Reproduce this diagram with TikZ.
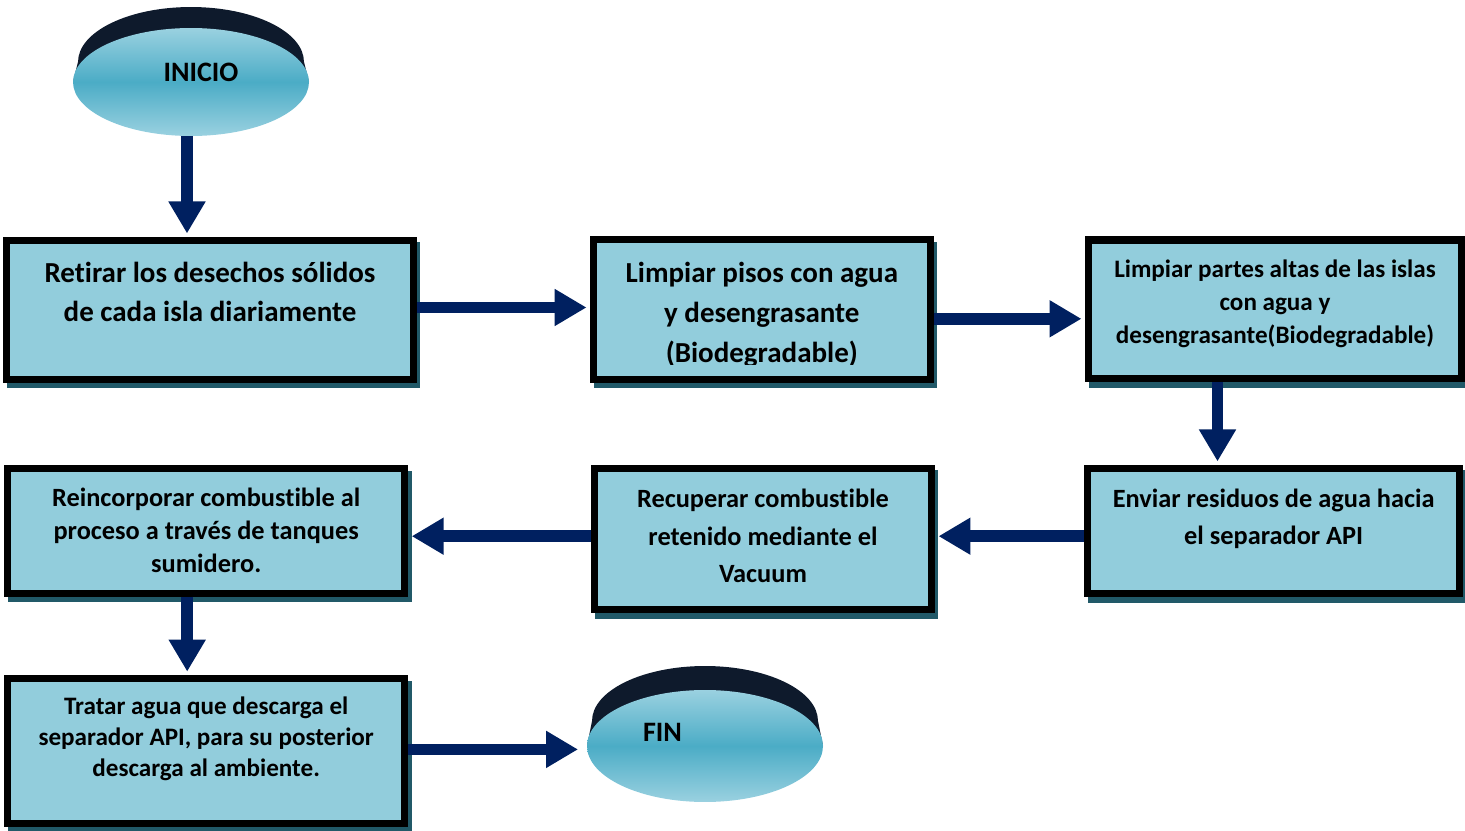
\documentclass[tikz,border=0pt]{standalone}
\usepackage{fontspec}
\setmainfont{Carlito}[Ligatures=NoCommon]
\usepackage{tikz}
\usetikzlibrary{positioning,arrows.meta,calc,shapes.geometric,shadows}
\definecolor{boxblue}{HTML}{92CDDC}
\definecolor{shadowteal}{HTML}{215968}
\definecolor{arrowblue}{HTML}{002060}
\definecolor{diskpale}{HTML}{9AD1E0}
\definecolor{diskmid}{HTML}{4BACC6}
\definecolor{rimdark}{HTML}{0E1A2C}

\begin{document}
\begin{tikzpicture}[
  x=0.02cm, y=-0.02cm,
  box/.style={draw=black, line width=4pt, fill=boxblue, align=center, inner sep=0pt,
    drop shadow={shadow xshift=0.07cm, shadow yshift=-0.11cm, fill=shadowteal, draw=shadowteal, opacity=1}},
  boxfont/.style n args={2}{font=\fontsize{#1}{#2}\selectfont\bfseries},
  flow/.style={-{Triangle[length=0.64cm, width=0.7cm]}, line width=0.232cm, draw=arrowblue, shorten >=2pt},
  disk/.style={ellipse, minimum width=4.72cm, inner sep=0pt, outer sep=0pt, top color=diskpale, bottom color=diskpale, middle color=diskmid},
  rim/.style={fill=rimdark},
  disklabel/.style={font=\fontsize{16}{19}\selectfont\bfseries, inner sep=0pt},
  ]
  \useasboundingbox (0,0) rectangle (1465,831);

  % start and end disks
  \fill[rim] (191,62) ellipse [x radius=2.26cm, y radius=1.1cm];
  \fill[rim] (78,62) -- (73,82) -- (309,82) -- (304,62) -- cycle;
  \node[disk, minimum height=2.16cm, label={[disklabel, xshift=0.2cm, yshift=0.2cm]center:INICIO}] (ini) at (191,82) {};

  \fill[rim] (705,721) ellipse [x radius=2.26cm, y radius=1.1cm];
  \fill[rim] (592,721) -- (587,746) -- (823,746) -- (818,721) -- cycle;
  \node[disk, minimum height=2.24cm, label={[disklabel, xshift=-0.85cm, yshift=0.27cm]center:FIN}] (fin) at (705,746) {};

  % process boxes
  \node[box, boxfont={16.5}{22.7}, minimum width=8.14cm, text height=1.63cm, text depth=1.15cm] (b1) at (210,310)
    {Retirar los desechos sólidos\\de cada isla diariamente};
  \node[box, minimum width=6.73cm, text height=2.456cm, text depth=0.334cm] (b2) at (761.8,309.3) {};
  \begin{scope}
    \clip (b2.north west) rectangle ([yshift=0.37cm]b2.south east);
    \node[boxfont={16.5}{22.7}, align=center, inner sep=0pt, text height=2.456cm, text depth=0.334cm] (t2) at (b2.center)
      {Limpiar pisos con agua\\y desengrasante\\(Biodegradable)};
  \end{scope}
  \node[box, boxfont={14.3}{18.7}, minimum width=7.46cm, text height=2.066cm, text depth=0.714cm] (b3) at (1275,309.5)
    {Limpiar partes altas de las islas\\con agua y\\desengrasante(Biodegradable)};
  \node[box, boxfont={15}{21.1}, minimum width=7.44cm, text height=1.53cm, text depth=0.98cm] (b4) at (1273.7,531.2)
    {Enviar residuos de agua hacia\\el separador API};
  \node[box, boxfont={15}{21.4}, minimum width=6.74cm, text height=2.284cm, text depth=0.546cm] (b5) at (763,539.2)
    {Recuperar combustible\\retenido mediante el\\Vacuum};
  \node[box, boxfont={15}{18.7}, minimum width=7.94cm, text height=2.076cm, text depth=0.414cm] (b6) at (206.2,530.9)
    {Reincorporar combustible al\\proceso a través de tanques\\sumidero.};
  \node[box, boxfont={14.3}{17.6}, minimum width=7.94cm, text height=1.95cm, text depth=0.94cm] (b7) at (206.2,750.9)
    {Tratar agua que descarga el\\separador API, para su posterior\\descarga al ambiente.};

  % flow arrows
  \draw[flow] ([xshift=-0.08cm]ini.south) -- ([xshift=-0.08cm]ini.south |- b1.north);
  \draw[flow] ([yshift=0.05cm]b1.east) -- ([yshift=0.05cm]b1.east -| b2.west);
  \draw[flow] ([yshift=-0.19cm]b2.east) -- ([yshift=-0.19cm]b2.east -| b3.west);
  \draw[flow] ([xshift=-1.15cm]b3.south) -- ([xshift=-1.15cm]b3.south |- b4.north);
  \draw[flow] ([yshift=-0.1cm]b4.west) -- ([yshift=-0.1cm]b4.west -| b5.east);
  \draw[flow] ([yshift=0.06cm]b5.west) -- ([yshift=0.06cm]b5.west -| b6.east);
  \draw[flow] ([xshift=-0.38cm]b6.south) -- ([xshift=-0.38cm]b6.south |- b7.north);
  \draw[flow, shorten >=0.18cm] ([yshift=0.03cm]b7.east) -- ([yshift=0.03cm]b7.east -| fin.west);
\end{tikzpicture}
\end{document}
